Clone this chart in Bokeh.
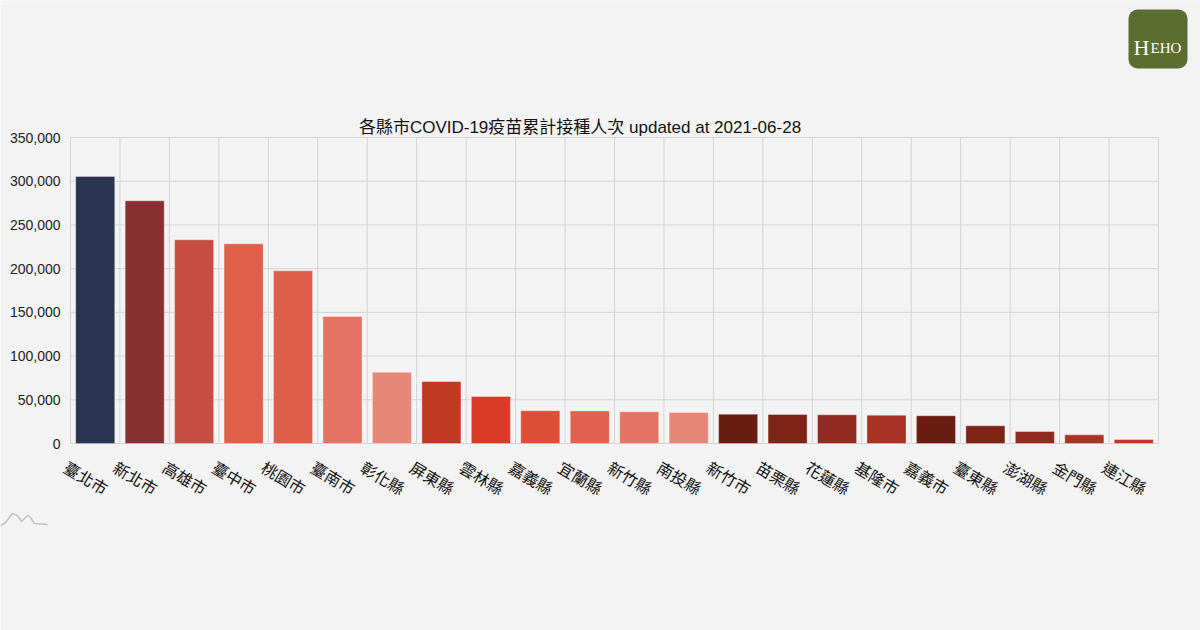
from bokeh.plotting import figure
from bokeh.models import ColumnDataSource, Range1d
from bokeh.core.properties import value
from bokeh.embed import file_html
from bokeh.resources import INLINE

# ---- data ----
counties = ["臺北市", "新北市", "高雄市", "臺中市", "桃園市", "臺南市", "彰化縣", "屏東縣",
            "雲林縣", "嘉義縣", "宜蘭縣", "新竹縣", "南投縣", "新竹市", "苗栗縣", "花蓮縣",
            "基隆市", "嘉義市", "臺東縣", "澎湖縣", "金門縣", "連江縣"]
doses = [305400, 277600, 233000, 228400, 197500, 145300, 81600, 70900,
         53800, 37400, 37300, 36300, 35500, 33500, 33200, 32800,
         32400, 31700, 20200, 13700, 9900, 4600]
bar_colors = ["#2a334f", "#87302f", "#c64d42", "#e05f4b", "#df5e4a", "#e57262", "#e68878", "#c13822",
              "#d93c26", "#dc4e38", "#e06150", "#e47363", "#e68676", "#6a1b12", "#7e2417", "#922b1f",
              "#a83224", "#6a1b12", "#7e2417", "#922b1f", "#a83224", "#c13822"]
y_ticks = [0, 50000, 100000, 150000, 200000, 250000, 300000, 350000]
y_tick_labels = ["0", "50,000", "100,000", "150,000", "200,000", "250,000", "300,000", "350,000"]
title_text = "各縣市COVID-19疫苗累計接種人次 updated at 2021-06-28"

# ---- layout constants (page pixels) ----
W, H = 1200, 630
BG = "#f3f3f3"
GRID = "#d3d3d3"
FRAME_L, FRAME_R = 70, 1158     # plot area left / right
AXIS_Y, TOP_Y = 443, 137        # zero line / top line
n = len(counties)
cw = (FRAME_R - FRAME_L) / n                  # px per category
ppv = (AXIS_Y - TOP_Y) / y_ticks[-1]          # px per value unit


def px2x(px):
    return (px - FRAME_L) / cw


def py2y(py):
    return (AXIS_Y - py) / ppv


p = figure(width=W, height=H, output_backend="svg", toolbar_location=None,
           x_range=Range1d(px2x(0), px2x(W)), y_range=Range1d(py2y(H), py2y(0)),
           min_border=0)
p.background_fill_color = BG
p.border_fill_color = BG
p.outline_line_color = None
p.axis.visible = False
p.grid.visible = False

# grid lines: category boundaries and value ticks
bounds = list(range(n + 1))
p.segment(x0=bounds, x1=bounds, y0=[y_ticks[0]] * len(bounds), y1=[y_ticks[-1]] * len(bounds),
          line_color=GRID, line_width=1)
p.segment(x0=[0] * len(y_ticks), x1=[n] * len(y_ticks), y0=y_ticks, y1=y_ticks,
          line_color=GRID, line_width=1)

# bars
src = ColumnDataSource(dict(cat=counties, x=[i + 0.5 for i in range(n)],
                            val=doses, color=bar_colors))
p.vbar(x="x", top="val", width=0.79, fill_color="color",
       line_color="white", line_alpha=0.35, line_width=1, source=src)

# y tick labels
p.text(x=0, y=y_ticks, text=y_tick_labels, x_offset=-10,
       text_align="right", text_baseline="middle",
       text_font=value("Liberation Sans"), text_font_size="14px", text_color="#222222")

# rotated category labels
p.text(x="x", y=py2y(477), text="cat", source=src, angle=-0.54, x_offset=-9,
       text_align="center", text_baseline="middle",
       text_font=value("Noto Sans CJK TC"), text_font_size="16px", text_color="#111111")

# title
p.text(x=[px2x(579.5)], y=[py2y(127)], text=[title_text],
       text_align="center", text_baseline="middle",
       text_font=value("Liberation Sans, Noto Sans CJK TC"), text_font_size="17px",
       text_color="#111111")

# logo
p.quad(left=[px2x(1128)], right=[px2x(1187)], top=[py2y(9)], bottom=[py2y(68)],
       fill_color="#5b6d2f", line_color=None, border_radius=9)
p.text(x=[px2x(1133)], y=[py2y(47)], text=["H"], text_color="white",
       text_font=value("Liberation Serif"), text_font_size="22px",
       text_baseline="alphabetic", text_align="left")
p.text(x=[px2x(1150)], y=[py2y(47)], text=["EHO"], text_color="white",
       text_font=value("Liberation Serif"), text_font_size="15px",
       text_baseline="alphabetic", text_align="left")

# small mountain icon
icon_px = [0, 5, 12, 17, 21, 27, 30, 34, 47]
icon_py = [525, 522, 513, 515, 521, 515, 517, 523, 524]
p.line(x=[px2x(v) for v in icon_px], y=[py2y(v) for v in icon_py],
       line_color="#c2c2c2", line_width=1.5)

html = file_html(p, INLINE)
html = html.replace("<body>", '<body style="background-color:%s;margin:0;">' % BG, 1)
open("out.html", "w").write(html)
